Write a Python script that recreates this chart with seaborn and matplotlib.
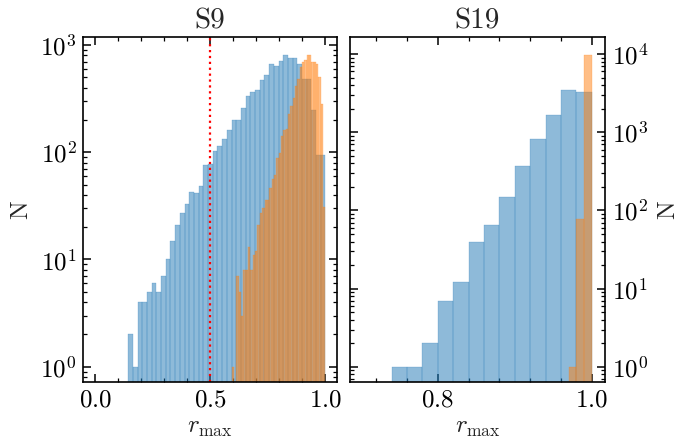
import numpy as np
import pandas as pd
import matplotlib
matplotlib.use("Agg")
import matplotlib.pyplot as plt
from matplotlib.colors import to_rgba
from matplotlib.ticker import LogLocator, MultipleLocator, NullFormatter
import seaborn as sns

# ---- data -------------------------------------------------------------
# S9, full sample: 42 equal-width bins of r_max spanning 0.144 .. 1.0
s9_all_range = (0.144, 1.0)
s9_all_counts = [2, 1, 4, 4, 5, 6, 5, 7, 10, 15,
                 21, 27, 33, 43, 42, 48, 76, 77, 102, 114,
                 134, 160, 199, 201, 261, 333, 362, 378, 469, 522,
                 661, 632, 704, 801, 762, 762, 666, 486, 486, 247,
                 95, 95]

# S9, selected sample: 40 equal-width bins spanning 0.593 .. 1.0
s9_sel_range = (0.593, 1.0)
s9_sel_counts = [1, 0, 7, 5, 3, 8, 8, 13, 8, 11,
                 12, 21, 27, 30, 36, 36, 46, 56, 61, 89,
                 99, 141, 160, 164, 226, 269, 321, 412, 479, 624,
                 693, 720, 800, 815, 693, 700, 670, 505, 280, 31]

# S19, full sample: bins of width 0.02 spanning 0.74 .. 1.0
s19_all_range = (0.74, 1.0)
s19_all_counts = [1, 1, 2, 7, 12, 40, 66, 148, 375, 830, 1680, 3470, 3300]

# S19, selected sample: bins of width 0.01 spanning 0.97 .. 1.0
s19_sel_range = (0.97, 1.0)
s19_sel_counts = [1, 77, 9800]

r_cut = 0.5
panel_titles = ["S9", "S19"]

# ---- style ------------------------------------------------------------
sns.set_style("ticks")
plt.rcParams.update({
    "font.family": ["cmr10", "DejaVu Serif"],
    "mathtext.fontset": "cm",
    "axes.formatter.use_mathtext": True,
    "font.size": 18,
    "axes.linewidth": 1.2,
    "axes.edgecolor": "black",
    "xtick.color": "black",
    "ytick.color": "black",
})

blue = "#1f77b4"
orange = "#ff7f0e"
TICK_FS = 18
LABEL_FS = 18
TITLE_FS = 21


def draw_hist(ax, value_range, counts, color):
    nbins = len(counts)
    edges = np.linspace(value_range[0], value_range[1], nbins + 1)
    table = pd.DataFrame({
        "r_max": 0.5 * (edges[:-1] + edges[1:]),
        "N": np.asarray(counts, dtype=float),
    })
    sns.histplot(data=table, x="r_max", weights="N",
                 bins=nbins, binrange=value_range, ax=ax,
                 color=color, alpha=0.5,
                 edgecolor=to_rgba(color, 0.5), linewidth=0.3)


def style_axes(ax, major_x, minor_x):
    ax.xaxis.set_major_locator(MultipleLocator(major_x))
    ax.xaxis.set_minor_locator(MultipleLocator(minor_x))
    ax.yaxis.set_major_locator(LogLocator(base=10, numticks=12))
    ax.yaxis.set_minor_locator(LogLocator(base=10, subs=np.arange(2, 10), numticks=50))
    ax.yaxis.set_minor_formatter(NullFormatter())
    ax.tick_params(which="both", direction="in", top=True, right=True,
                   bottom=True, left=True)
    ax.tick_params(which="major", length=5.5, width=1.1, labelsize=TICK_FS, pad=5)
    ax.tick_params(which="minor", length=3, width=0.9)
    for s in ax.spines.values():
        s.set_visible(True)
        s.set_linewidth(1.2)


fig = plt.figure(figsize=(6.94, 4.41), dpi=100)
ax1 = fig.add_axes([0.1203, 0.1338, 0.3653, 0.7823])
ax2 = fig.add_axes([0.5043, 0.1338, 0.3674, 0.7823])

for ax in (ax1, ax2):
    ax.set_yscale("log")

# left panel: S9
draw_hist(ax1, s9_all_range, s9_all_counts, blue)
draw_hist(ax1, s9_sel_range, s9_sel_counts, orange)
ax1.axvline(r_cut, color="red", linestyle=":", linewidth=1.6)
ax1.set_xlim(-0.05, 1.05)
ax1.set_ylim(0.72, 1190)
style_axes(ax1, 0.5, 0.1)
ax1.set_xlabel(r"$r_{\max}$", fontsize=LABEL_FS, labelpad=4)
ax1.set_ylabel("N", fontsize=LABEL_FS, labelpad=6)
ax1.set_title(panel_titles[0], fontsize=TITLE_FS, pad=6)

# right panel: S19
draw_hist(ax2, s19_all_range, s19_all_counts, blue)
draw_hist(ax2, s19_sel_range, s19_sel_counts, orange)
ax2.set_xlim(0.686, 1.017)
ax2.set_ylim(0.64, 16500)
style_axes(ax2, 0.2, 0.04)
ax2.tick_params(axis="y", which="both", labelleft=False, labelright=True)
ax2.yaxis.set_label_position("right")
ax2.set_xlabel(r"$r_{\max}$", fontsize=LABEL_FS, labelpad=4)
ax2.set_ylabel("N", fontsize=LABEL_FS, labelpad=6)
ax2.set_title(panel_titles[1], fontsize=TITLE_FS, pad=6)

fig.savefig("out.png", dpi=100)
